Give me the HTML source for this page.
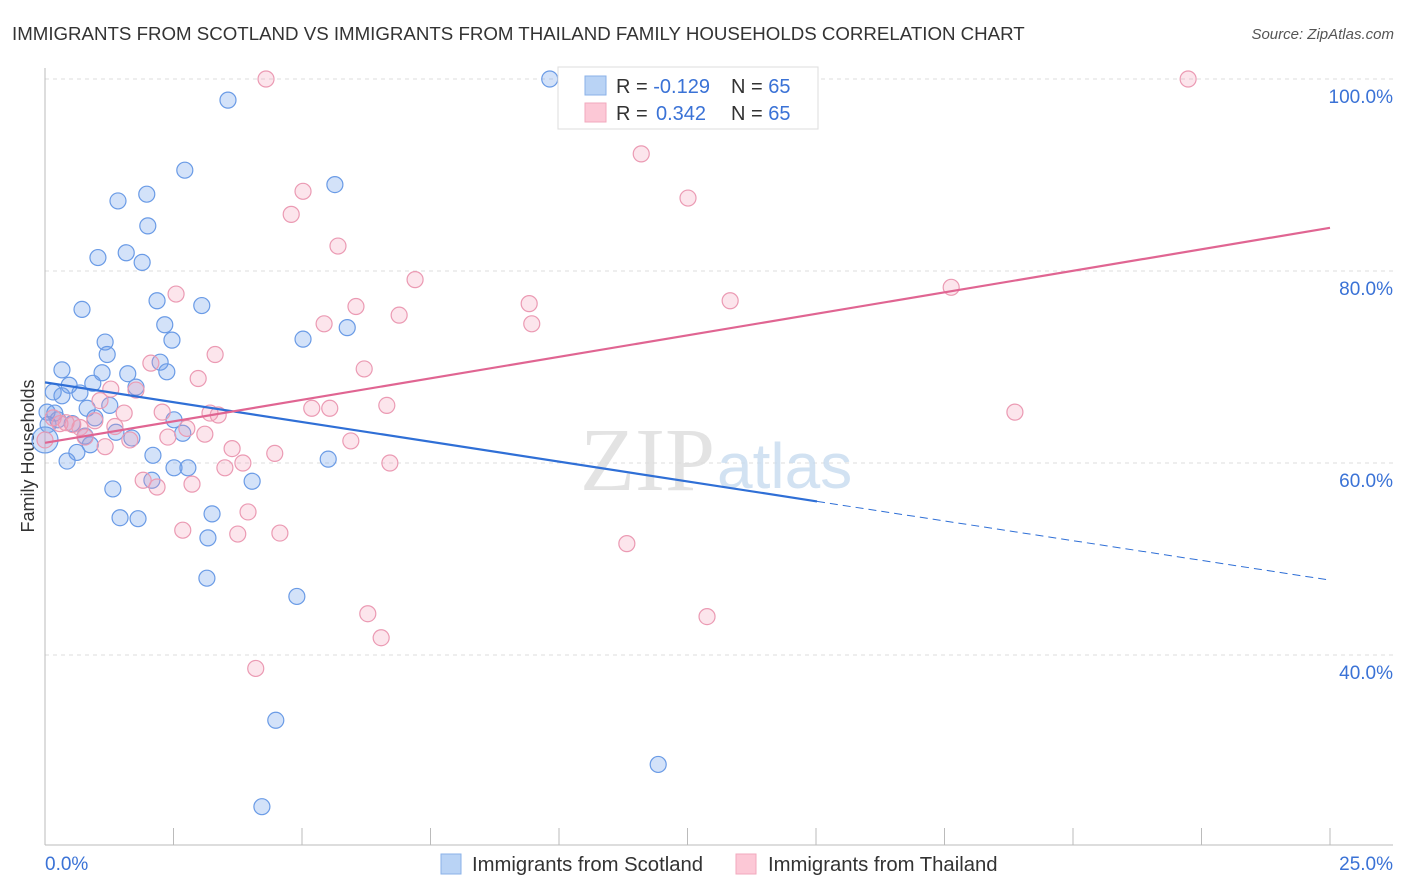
<!DOCTYPE html>
<html><head><meta charset="utf-8"><style>
body{margin:0;background:#fff;font-family:"Liberation Sans",sans-serif;}
#wrap{position:relative;width:1406px;height:892px;overflow:hidden;}
</style></head><body>
<div id="wrap">
<svg id="svg" width="1406" height="892" xmlns="http://www.w3.org/2000/svg" font-family="Liberation Sans, sans-serif">
<text x="12" y="40" font-size="18.7" fill="#333">IMMIGRANTS FROM SCOTLAND VS IMMIGRANTS FROM THAILAND FAMILY HOUSEHOLDS CORRELATION CHART</text>
<text x="1394" y="39" font-size="15" fill="#555" font-style="italic" text-anchor="end">Source: ZipAtlas.com</text>
<text x="34" y="456" font-size="18" fill="#333" text-anchor="middle" transform="rotate(-90 34 456)">Family Households</text>
<g id="grid"></g>
<text x="715" y="490" font-size="90" fill="#ddd" font-family="Liberation Serif, serif" text-anchor="end" opacity="0.8">ZIP</text>
<text x="717" y="488" font-size="64" fill="#c8dcf0" opacity="0.8">atlas</text>
<g id="pts"></g>
<g id="lines"></g>
<g>
<rect x="558" y="67" width="260" height="62" fill="#fff" stroke="#ddd"/>
<rect x="585" y="76" width="21" height="19" fill="#b9d3f5" stroke="#8ab2e8"/>
<rect x="585" y="103" width="21" height="19" fill="#fcc8d6" stroke="#f2a9bd"/>
<text x="616" y="93" font-size="20" fill="#333">R = <tspan fill="#3a72d6">-0.129</tspan><tspan x="731">N = </tspan><tspan fill="#3a72d6">65</tspan></text>
<text x="616" y="120" font-size="20" fill="#333">R = <tspan fill="#3a72d6" x="656">0.342</tspan><tspan x="731">N = </tspan><tspan fill="#3a72d6">65</tspan></text>
</g>
<g>
<rect x="441" y="854" width="20" height="20" fill="#b9d3f5" stroke="#8ab2e8"/>
<text x="472" y="871" font-size="20.3" fill="#333">Immigrants from Scotland</text>
<rect x="736" y="854" width="20" height="20" fill="#fcc8d6" stroke="#f2a9bd"/>
<text x="768" y="871" font-size="20.3" fill="#333">Immigrants from Thailand</text>
</g>
</svg>
</div>
<script>
const xTickVals=[0,25];
const xTickLabels=["0.0%","25.0%"];
const yTickVals=[100,80,60,40];
const yTickLabels=["100.0%","80.0%","60.0%","40.0%"];
const scotX=[9.82,3.56,2.72,5.64,1.98,1.42,2.00,1.03,1.58,1.89,0.72,2.18,3.05,2.33,2.47,5.88,5.02,1.17,1.21,0.33,2.24,1.11,1.61,2.37,0.47,0.93,1.77,0.16,0.68,0.33,1.26,0.82,0.04,0.19,0.25,0.97,2.51,0.53,0.06,1.38,2.68,0.78,1.69,0.88,0.62,2.10,0.43,5.51,2.51,2.78,2.08,4.03,1.32,3.25,1.46,1.81,3.17,3.15,4.90,4.49,11.93,4.22,0];
const scotY=[100,97.8,90.5,89.0,88.0,87.3,84.7,81.4,81.9,80.9,76.0,76.9,76.4,74.4,72.8,74.1,72.9,72.6,71.3,69.7,70.5,69.4,69.3,69.5,68.1,68.3,67.9,67.4,67.3,67.0,66.0,65.7,65.3,65.2,64.5,64.7,64.5,64.1,64.0,63.2,63.1,62.8,62.6,61.9,61.1,60.8,60.2,60.4,59.5,59.5,58.2,58.1,57.3,54.7,54.3,54.2,52.2,48.0,46.1,33.2,28.6,24.2,62.4];
const thaiX=[4.30,22.24,11.60,12.51,5.02,4.79,5.70,7.20,17.63,2.55,9.42,13.33,6.05,5.43,9.47,6.89,3.31,2.06,6.21,2.98,1.28,1.77,1.07,6.65,1.54,2.28,3.21,3.37,5.19,5.54,18.87,0.16,0.29,0.54,0.97,1.36,2.76,3.11,1.65,2.39,5.95,1.17,3.64,4.47,3.85,6.71,3.50,1.91,2.18,2.86,3.95,2.68,3.75,4.57,11.32,6.28,12.88,6.54,4.10,0.41,0.68,0.78,0];
const thaiY=[100,100,92.2,87.6,88.3,85.9,82.6,79.1,78.3,77.6,76.6,76.9,76.3,74.5,74.5,75.4,71.3,70.4,69.8,68.8,67.7,67.6,66.5,66.0,65.2,65.3,65.2,65.0,65.7,65.7,65.3,64.7,64.1,64.0,64.4,63.8,63.6,63.0,62.4,62.7,62.3,61.7,61.5,61.0,60.0,60.0,59.5,58.2,57.5,57.8,54.9,53.0,52.6,52.7,51.6,44.3,44.0,41.8,38.6,64.2,63.7,62.7,62.4];
const scotTrend=[68.4,56.0,47.8];
const scotTrendX=[0,15.02,25];
const thaiTrend=[62.1,84.5];
const thaiTrendX=[0,25];

const NS="http://www.w3.org/2000/svg";
const X=v=>45+v*(1285/25);
const Y=v=>79+(100-v)*9.6;
function mk(tag,attrs,parent){const e=document.createElementNS(NS,tag);for(const k in attrs)e.setAttribute(k,attrs[k]);parent.appendChild(e);return e;}
const grid=document.getElementById('grid');
yTickVals.forEach((v,i)=>{
  const l=mk('line',{x1:45,x2:1393,y1:Y(v),y2:Y(v),stroke:'#ddd','stroke-dasharray':'4,4'},grid);
  
  
  const t=mk('text',{x:1393,y:Y(v)+24,'font-size':19,fill:'#3a72d6','text-anchor':'end'},grid);
  t.textContent=yTickLabels[i];
  
  
});
const ax=mk('line',{x1:45,x2:45,y1:68,y2:845,stroke:'#bbb'},grid);


const bx=mk('line',{x1:45,x2:1393,y1:845,y2:845,stroke:'#bbb'},grid);


for(let i=0;i<=10;i++){
  const tk=mk('line',{x1:X(i*2.5),x2:X(i*2.5),y1:828,y2:845,stroke:'#bbb'},grid);
  
  
}
xTickVals.forEach((v,i)=>{
  const t=mk('text',{x:i==0?X(v):1393,y:870,'font-size':19,fill:'#3a72d6','text-anchor':i==0?'start':'end'},grid);
  t.textContent=xTickLabels[i];
  
  
});
const pts=document.getElementById('pts');
scotX.forEach((v,i)=>{
  const c=mk('circle',{cx:X(v),cy:Y(scotY[i]),r:i==scotX.length-1?13:8,fill:'rgba(110,160,235,0.3)',stroke:'#6a9be6','stroke-width':1.2},pts);
  
  
});
thaiX.forEach((v,i)=>{
  const c=mk('circle',{cx:X(v),cy:Y(thaiY[i]),r:8,fill:'rgba(245,150,180,0.25)',stroke:'#eb9ab3','stroke-width':1.2},pts);
  
  
});
const lines=document.getElementById('lines');
const b1=mk('line',{x1:X(scotTrendX[0]),y1:Y(scotTrend[0]),x2:X(scotTrendX[1]),y2:Y(scotTrend[1]),stroke:'#2f6fd6','stroke-width':2.2},lines);


const b2=mk('line',{x1:X(scotTrendX[1]),y1:Y(scotTrend[1]),x2:X(scotTrendX[2]),y2:Y(scotTrend[2]),stroke:'#2f6fd6','stroke-width':1,'stroke-dasharray':'8,5'},lines);


const p1=mk('line',{x1:X(thaiTrendX[0]),y1:Y(thaiTrend[0]),x2:X(thaiTrendX[1]),y2:Y(thaiTrend[1]),stroke:'#e06592','stroke-width':2.2},lines);


</script>
</body></html>
